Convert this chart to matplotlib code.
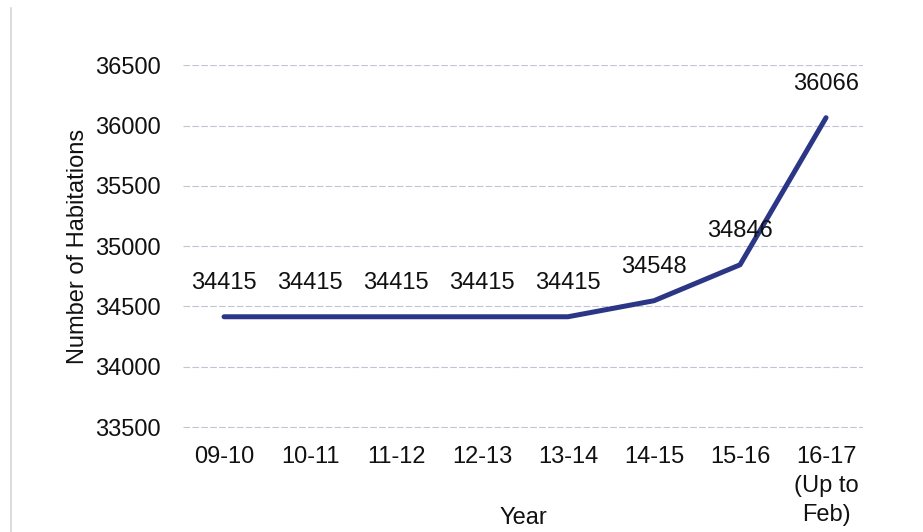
import matplotlib
matplotlib.use("Agg")
import matplotlib.pyplot as plt
from matplotlib.lines import Line2D

years = ["09-10", "10-11", "11-12", "12-13", "13-14", "14-15", "15-16", "16-17\n(Up to\nFeb)"]
habitations = [34415, 34415, 34415, 34415, 34415, 34548, 34846, 36066]

plt.rcParams['font.family'] = ['Liberation Sans', 'DejaVu Sans']
fs = 17

fig = plt.figure(figsize=(9.23, 5.32), dpi=100)
ax = fig.add_axes([0.198, 0.195, 0.737, 0.683])

x = list(range(len(years)))
ax.plot(x, habitations, color='#2b3786', linewidth=3.6, solid_capstyle='round')

for xi, v in zip(x, habitations):
    ax.annotate(str(v), (xi, v), xytext=(0, 24), textcoords='offset points',
                ha='center', va='center', fontsize=fs, color='#111111')

ax.set_ylim(33490, 36504)
ax.set_yticks([33500, 34000, 34500, 35000, 35500, 36000, 36500])
ax.set_xlim(-0.48, 7.43)
ax.set_xticks(x)
ax.set_xticklabels(years, fontsize=fs, color='#111111', linespacing=1.4, va='top')
ax.tick_params(axis='y', labelsize=fs, labelcolor='#111111', length=0, pad=16)
ax.tick_params(axis='x', length=0, pad=13)

ax.grid(axis='y', color='#c0c4d4', linestyle=(0, (6, 2)), linewidth=0.8)
ax.set_axisbelow(True)
for s in ax.spines.values():
    s.set_visible(False)

ax.set_ylabel("Number of Habitations", fontsize=fs, color='#111111', labelpad=4)
ax.set_xlabel("Year", fontsize=fs, color='#111111')
ax.xaxis.set_label_coords(0.5, -0.248)
ax.xaxis.label.set_va('center')

fig.add_artist(Line2D([0.012, 0.012], [0.0, 0.985], color='#d5d5d8', linewidth=1.2))

fig.savefig("out.png", dpi=100)
